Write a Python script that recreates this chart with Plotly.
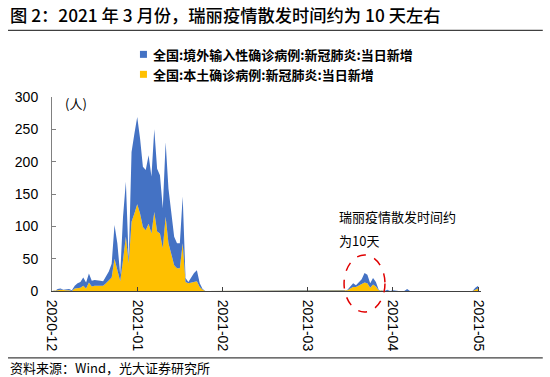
import plotly.graph_objects as go

# ---------------- data (daily points, index 0 = 2020-12 tick) ----------------
local_cases = [
    0, 0, 1, 2, 1, 1, 1, 0, 4, 4,
    5, 8, 4, 13, 7, 8, 8, 8, 8, 12,
    16, 21, 50, 32, 15, 48, 84, 43, 107, 120,
    134, 120, 99, 94, 104, 89, 122, 92, 89, 66,
    115, 74, 58, 40, 35, 35, 74, 14, 12, 13,
    14, 15, 6, 2, 0, 0, 0, 0, 0, 0,
    0, 0, 0, 0, 0, 0, 0, 0, 0, 0,
    0, 0, 0, 0, 0, 0, 0, 0, 0, 0,
    0, 0, 0, 0, 0, 0, 0, 0, 0, 0,
    0, 0, 0, 0, 0, 0, 0, 0, 0, 0,
    0, 0, 0, 0, 1, 4, 6, 6, 8, 10,
    13, 12, 5, 10, 7, 1, 0, 0, 0, 0,
    0, 0, 0, 0, 0, 1, 0, 0, 0, 0,
    0, 0, 0, 0, 0, 0, 0, 0, 0, 0,
    0, 0, 0, 0, 0, 0, 0, 0, 0, 2,
    4,
]
imported_cases = [
    0, 0, 2, 2, 1, 1, 2, 1, 4, 8,
    9, 13, 9, 14, 9, 9, 9, 8, 7, 10,
    14, 21, 52, 42, 10, 67, 85, 4, 108, 123,
    135, 116, 93, 93, 106, 88, 128, 97, 90, 62,
    115, 84, 64, 44, 39, 39, 72, 6, 2, 9,
    14, 17, 6, 1, 0, 0, 0, 0, 0, 0,
    0, 1, 0, 0, 0, 0, 0, 0, 0, 0,
    0, 0, 0, 0, 0, 0, 0, 0, 0, 0,
    0, 0, 0, 0, 0, 0, 0, 0, 0, 0,
    0, 0, 0, 1, 0, 0, 0, 0, 0, 0,
    0, 1, 0, 0, 1, 3, 6, 3, 5, 8,
    15, 13, 7, 10, 7, 1, 0, 0, 2, 0,
    1, 0, 0, 0, 0, 2, 0, 0, 0, 0,
    0, 0, 0, 0, 0, 0, 0, 0, 0, 0,
    0, 0, 0, 0, 0, 0, 0, 0, 0, 3,
    4,
]
tick_index = [0, 30, 60, 90, 120, 150]
tick_labels = ["2020-12", "2021-01", "2021-02", "2021-03", "2021-04", "2021-05"]
y_ticks = [0, 50, 100, 150, 200, 250, 300]

series_imported = "全国:境外输入性确诊病例:新冠肺炎:当日新增"
series_local = "全国:本土确诊病例:新冠肺炎:当日新增"
title_text = "图 2：2021 年 3 月份，瑞丽疫情散发时间约为 10 天左右"
source_text = "资料来源：Wind，光大证券研究所"
note_lines = ["瑞丽疫情散发时间约", "为10天"]

BLUE = "#4472C4"
YELLOW = "#FFC000"
CJK = "Noto Sans CJK SC"
LAT = "Liberation Sans, Arial, Noto Sans CJK SC"

# ---------------- layout geometry (picture pixels) ----------------
W, H = 550, 377
AX_LEFT, AX_RIGHT, AX_TOP, AX_BOTTOM = 52, 481.2, 96.7, 291
L = AX_LEFT
T = AX_TOP
R = W - AX_RIGHT
B = H - AX_BOTTOM
PW = AX_RIGHT - AX_LEFT
PH = AX_BOTTOM - AX_TOP


def px(x):
    return (x - AX_LEFT) / PW


def py(y):
    return (AX_BOTTOM - y) / PH


x = list(range(len(local_cases)))

fig = go.Figure()
fig.add_trace(go.Scatter(
    x=x, y=local_cases, mode="lines", stackgroup="one",
    line=dict(width=0, color=YELLOW), fillcolor=YELLOW,
    name=series_local, showlegend=False, hoverinfo="skip"))
fig.add_trace(go.Scatter(
    x=x, y=imported_cases, mode="lines", stackgroup="one",
    line=dict(width=0, color=BLUE), fillcolor=BLUE,
    name=series_imported, showlegend=False, hoverinfo="skip"))

fig.update_layout(
    width=W, height=H,
    margin=dict(l=L, r=R, t=T, b=B, pad=0),
    paper_bgcolor="white", plot_bgcolor="white",
    font=dict(family=CJK, size=13, color="#000000"),
    showlegend=False,
)
fig.update_xaxes(
    range=[0, 151], tickmode="array", tickvals=tick_index, ticktext=tick_labels,
    tickangle=90, ticks="inside", ticklen=4, tickcolor="#404040",
    showline=True, linecolor="#404040", linewidth=1,
    showgrid=False, zeroline=False,
    tickfont=dict(family=LAT, size=14, color="#000000"),
    ticklabelstandoff=5,
)
fig.update_yaxes(
    range=[0, 300], tickmode="array", tickvals=y_ticks,
    ticks="inside", ticklen=4, tickcolor="#808080",
    showline=True, linecolor="#808080", linewidth=1,
    showgrid=False, zeroline=False,
    tickfont=dict(family=LAT, size=14, color="#000000"),
    ticklabelstandoff=10,
)

ann = []
ann.append(dict(xref="paper", yref="paper", x=px(8), y=py(14), xanchor="left", yanchor="middle",
                text=title_text, showarrow=False,
                font=dict(family=CJK, size=17.3, color="#000000", weight=500)))
ann.append(dict(xref="paper", yref="paper", x=px(8), y=py(368), xanchor="left", yanchor="middle",
                text=source_text, showarrow=False, font=dict(family=CJK, size=13, color="#000000")))
ann.append(dict(xref="paper", yref="paper", x=px(151), y=py(54), xanchor="left", yanchor="middle",
                text="<b>" + series_imported + "</b>", showarrow=False,
                font=dict(family=CJK, size=13, color="#000000")))
ann.append(dict(xref="paper", yref="paper", x=px(151), y=py(74), xanchor="left", yanchor="middle",
                text="<b>" + series_local + "</b>", showarrow=False,
                font=dict(family=CJK, size=13, color="#000000")))
ann.append(dict(xref="paper", yref="paper", x=px(63), y=py(103), xanchor="left", yanchor="middle",
                text="(人)", showarrow=False, font=dict(family=CJK, size=13, color="#000000")))
ann.append(dict(xref="paper", yref="paper", x=px(337), y=py(216), xanchor="left", yanchor="middle",
                text=note_lines[0], showarrow=False, font=dict(family=CJK, size=13, color="#000000")))
ann.append(dict(xref="paper", yref="paper", x=px(337), y=py(240), xanchor="left", yanchor="middle",
                text=note_lines[1], showarrow=False, font=dict(family=CJK, size=13, color="#000000")))
fig.update_layout(annotations=ann)

shapes = []
shapes.append(dict(type="line", xref="paper", yref="paper", x0=px(8), x1=px(543), y0=py(30), y1=py(30),
                   line=dict(color="#404040", width=1.2)))
shapes.append(dict(type="line", xref="paper", yref="paper", x0=px(8), x1=px(543), y0=py(358), y1=py(358),
                   line=dict(color="#404040", width=1.2)))
shapes.append(dict(type="rect", xref="paper", yref="paper", x0=px(140), x1=px(147), y0=py(50.5), y1=py(57.5),
                   fillcolor=BLUE, line=dict(width=0)))
shapes.append(dict(type="rect", xref="paper", yref="paper", x0=px(140), x1=px(147), y0=py(70.5), y1=py(77.5),
                   fillcolor=YELLOW, line=dict(width=0)))
shapes.append(dict(type="circle", xref="x", yref="paper", x0=102.8, x1=117.2, y0=py(312), y1=py(255),
                   line=dict(color="#E00000", width=1.5, dash="dash"), fillcolor="rgba(0,0,0,0)"))
fig.update_layout(shapes=shapes)

# remove the browser's default 8 px body margin so the figure fills the window
fig.write_html("out.html", config={"displayModeBar": False},
               post_script="document.body.style.margin='0';")
